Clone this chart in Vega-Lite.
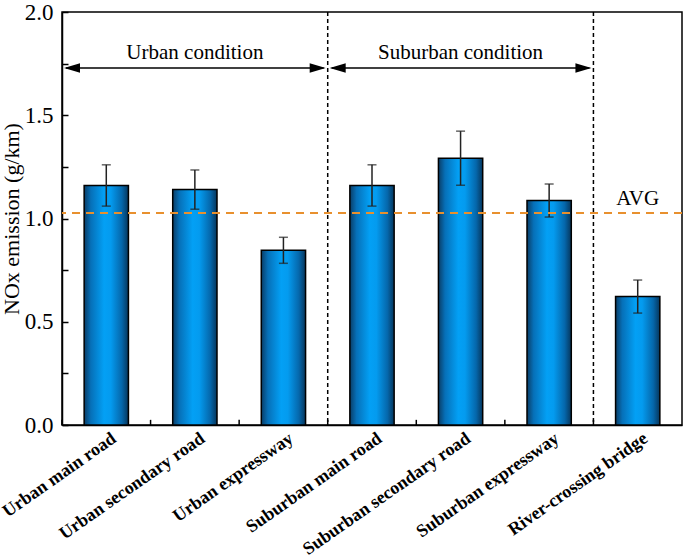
{
  "$schema": "https://vega.github.io/schema/vega-lite/v6.json",
  "autosize": {"type": "none"},
  "padding": {"left": 62, "top": 12, "right": 3, "bottom": 135},
  "width": 620,
  "height": 413,
  "config": {
    "view": {"stroke": "black", "strokeWidth": 1.5},
    "font": "Liberation Serif",
    "axis": {"domainColor": "black", "domainWidth": 1.5, "tickColor": "black", "tickWidth": 1.5, "labelColor": "black", "titleColor": "black", "grid": false, "labelFont": "Liberation Serif", "titleFont": "Liberation Serif"}
  },
  "datasets": {
    "bars": [
      {"road": "Urban main road", "value": 1.16, "err": 0.10},
      {"road": "Urban secondary road", "value": 1.14, "err": 0.095},
      {"road": "Urban expressway", "value": 0.846, "err": 0.063},
      {"road": "Suburban main road", "value": 1.16, "err": 0.10},
      {"road": "Suburban secondary road", "value": 1.292, "err": 0.131},
      {"road": "Suburban expressway", "value": 1.087, "err": 0.08},
      {"road": "River-crossing bridge", "value": 0.622, "err": 0.08}
    ],
    "conds": [
      {"label": "Urban condition", "from": "Urban main road", "to": "Suburban main road", "mid": "Urban secondary road"},
      {"label": "Suburban condition", "from": "Suburban main road", "to": "River-crossing bridge", "mid": "Suburban secondary road"}
    ],
    "seps": [
      {"road": "Suburban main road"},
      {"road": "River-crossing bridge"}
    ]
  },
  "layer": [
    {
      "data": {"name": "bars"},
      "mark": {"type": "bar", "width": {"band": 0.5}, "stroke": "black", "strokeWidth": 1.5,
        "color": {"gradient": "linear", "x1": 0, "x2": 1, "y1": 0, "y2": 0, "stops": [
          {"offset": 0, "color": "#0a3d66"},
          {"offset": 0.15, "color": "#0670b8"},
          {"offset": 0.45, "color": "#03a0f5"},
          {"offset": 0.6, "color": "#049bef"},
          {"offset": 0.85, "color": "#0567ab"},
          {"offset": 1, "color": "#06365c"}
        ]}},
      "encoding": {
        "x": {"field": "road", "type": "nominal", "sort": null, "title": null,
          "scale": {"domain": ["Urban main road", "Urban secondary road", "Urban expressway", "Suburban main road", "Suburban secondary road", "Suburban expressway", "River-crossing bridge"], "paddingInner": 0, "paddingOuter": 0},
          "axis": {"title": null, "labelAngle": -35, "labelAlign": "right", "labelBaseline": "top", "labelFontWeight": "bold", "labelFontSize": 18, "labelLimit": 400, "tickSize": -5, "labelPadding": 9, "labelOffset": 3}},
        "y": {"field": "value", "type": "quantitative", "title": "NOx emission (g/km)",
          "scale": {"domain": [0, 2], "nice": false},
          "axis": {"title": "NOx emission (g/km)", "titleFontSize": 22, "titleFontWeight": "normal", "titlePadding": 1,
            "values": [0, 0.25, 0.5, 0.75, 1, 1.25, 1.5, 1.75, 2],
            "labelExpr": "(datum.value * 4) % 2 == 0 ? format(datum.value, '.1f') : ''",
            "labelFontSize": 23, "tickSize": -6, "labelPadding": 15}}
      }
    },
    {
      "data": {"name": "bars"},
      "mark": {"type": "errorbar", "ticks": {"size": 9}, "thickness": 1.5, "color": "#222222"},
      "encoding": {
        "x": {"field": "road", "type": "nominal", "sort": null, "title": null},
        "y": {"field": "value", "type": "quantitative", "title": "NOx emission (g/km)"},
        "yError": {"field": "err"}
      }
    },
    {
      "data": {"name": "bars"},
      "mark": {"type": "rule", "color": "black", "strokeWidth": 1.5},
      "encoding": {
        "x": {"field": "road", "type": "nominal", "bandPosition": 0, "title": null},
        "y": {"datum": 0},
        "y2": {"datum": 0.025}
      }
    },
    {
      "data": {"name": "seps"},
      "mark": {"type": "rule", "color": "black", "strokeWidth": 1.5, "strokeDash": [4, 3]},
      "encoding": {
        "x": {"field": "road", "type": "nominal", "bandPosition": 0, "title": null}
      }
    },
    {
      "data": {"name": "bars"},
      "mark": {"type": "rule", "color": "#e8902e", "strokeWidth": 2, "strokeDash": [8, 6]},
      "encoding": {"y": {"datum": 1.027}}
    },
    {
      "data": {"values": [{"label": "AVG", "road": "River-crossing bridge"}]},
      "mark": {"type": "text", "fontSize": 21, "color": "black", "baseline": "middle", "align": "center"},
      "encoding": {
        "x": {"field": "road", "type": "nominal", "title": null},
        "y": {"datum": 1.094},
        "text": {"field": "label"}
      }
    },
    {
      "data": {"name": "conds"},
      "mark": {"type": "rule", "color": "black", "strokeWidth": 1.5, "xOffset": 4, "x2Offset": -4},
      "encoding": {
        "x": {"field": "from", "type": "nominal", "bandPosition": 0, "title": null},
        "x2": {"field": "to", "bandPosition": 0},
        "y": {"datum": 1.729}
      }
    },
    {
      "data": {"name": "conds"},
      "mark": {"type": "point", "filled": true, "color": "black", "opacity": 1, "size": 256, "shape": "M0,0L2,-0.6L2,0.6Z", "xOffset": 2},
      "encoding": {
        "x": {"field": "from", "type": "nominal", "bandPosition": 0, "title": null},
        "y": {"datum": 1.729}
      }
    },
    {
      "data": {"name": "conds"},
      "mark": {"type": "point", "filled": true, "color": "black", "opacity": 1, "size": 256, "shape": "M0,0L-2,-0.6L-2,0.6Z", "xOffset": -2},
      "encoding": {
        "x": {"field": "to", "type": "nominal", "bandPosition": 0, "title": null},
        "y": {"datum": 1.729}
      }
    },
    {
      "data": {"name": "conds"},
      "mark": {"type": "text", "fontSize": 21, "color": "black", "baseline": "middle", "align": "center"},
      "encoding": {
        "x": {"field": "mid", "type": "nominal", "title": null},
        "y": {"datum": 1.80},
        "text": {"field": "label"}
      }
    }
  ]
}
